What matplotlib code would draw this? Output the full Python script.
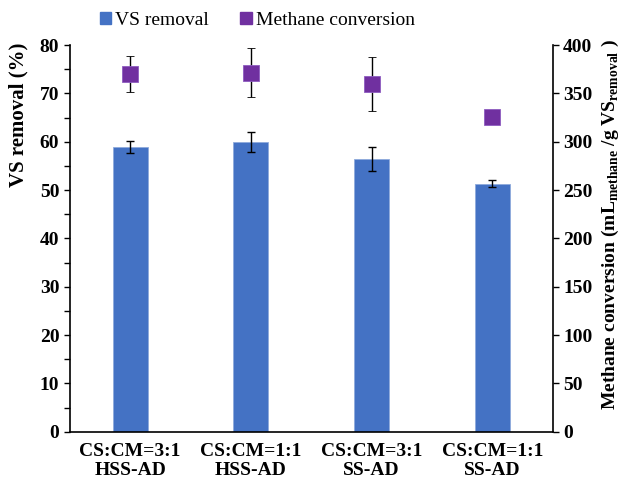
import numpy as np
import matplotlib.pyplot as plt
from matplotlib.ticker import MultipleLocator
from matplotlib.lines import Line2D

plt.rcParams["font.family"] = ["Liberation Serif", "DejaVu Serif"]
plt.rcParams["mathtext.fontset"] = "custom"
plt.rcParams["mathtext.rm"] = "Liberation Serif:bold"
plt.rcParams["mathtext.bf"] = "Liberation Serif:bold"

groups = ["CS:CM=3:1\nHSS-AD", "CS:CM=1:1\nHSS-AD", "CS:CM=3:1\nSS-AD", "CS:CM=1:1\nSS-AD"]
vs_removal = [58.9, 60.0, 56.4, 51.3]
vs_err = [1.3, 2.1, 2.4, 0.7]
methane = [370, 371.5, 359.5, 326]
methane_err = [19, 25, 28, 6]

fig = plt.figure(figsize=(6.23, 4.84), dpi=100)
ax = fig.add_axes([0.112, 0.108, 0.775, 0.799])
x = np.arange(len(groups))

ax.bar(x, vs_removal, width=0.29, color="#4472C4", edgecolor="#8FAADC",
       linewidth=0.6, label="VS removal", zorder=2)
ax.errorbar(x, vs_removal, yerr=vs_err, fmt="none", ecolor="black",
            elinewidth=1, capsize=3, capthick=1, zorder=3)

ax.set_xlim(-0.5, len(groups) - 0.5)
ax.set_ylim(0, 80)
ax.yaxis.set_major_locator(MultipleLocator(10))
ax.yaxis.set_minor_locator(MultipleLocator(5))
ax.tick_params(axis="y", which="both", direction="out", length=4, width=1)
ax.tick_params(axis="x", length=0, pad=8)
ax.set_xticks(x)
ax.set_xticklabels(groups, fontsize=14, fontweight="bold", linespacing=1.2)
for lab in ax.get_yticklabels():
    lab.set_fontsize(14)
    lab.set_fontweight("bold")
ax.spines["top"].set_visible(False)
ax.spines["right"].set_visible(False)
for s in ("left", "bottom"):
    ax.spines[s].set_linewidth(1.2)
ax.set_ylabel("VS removal (%)", fontsize=15, fontweight="bold")
ax.yaxis.set_label_coords(-0.085, 0.82)

# secondary axis for methane conversion
ax2 = ax.twinx()
ax2.errorbar(x, methane, yerr=methane_err, fmt="s", color="#7030A0",
             markersize=11, markeredgecolor="#8E5CC0", markeredgewidth=0.6,
             ecolor="black", elinewidth=1, capsize=3, capthick=1,
             label="Methane conversion", zorder=3)
ax2.set_ylim(0, 400)
ax2.yaxis.set_major_locator(MultipleLocator(50))
ax2.tick_params(axis="y", direction="out", length=4, width=1)
for lab in ax2.get_yticklabels():
    lab.set_fontsize(14)
    lab.set_fontweight("bold")
for s in ("top", "left", "bottom"):
    ax2.spines[s].set_visible(False)
ax2.spines["right"].set_linewidth(1.2)
ax2.set_ylabel(r"Methane conversion (mL$_{\mathrm{methane}}$ /g VS$_{\mathrm{removal}}$ )",
               fontsize=14, fontweight="bold")
ax2.yaxis.set_label_coords(1.098, 0.535)

h1 = plt.Rectangle((0, 0), 1, 1, color="#4472C4")
h2 = Line2D([], [], marker="s", color="#7030A0", linestyle="none", markersize=9)
fig.legend([h1, h2], ["VS removal", "Methane conversion"], loc="center",
           bbox_to_anchor=(0.413, 0.958), ncol=2, frameon=False, fontsize=14,
           handlelength=0.6, handleheight=0.6, handletextpad=0.2, columnspacing=1.6)

fig.savefig("out.png", dpi=100)
